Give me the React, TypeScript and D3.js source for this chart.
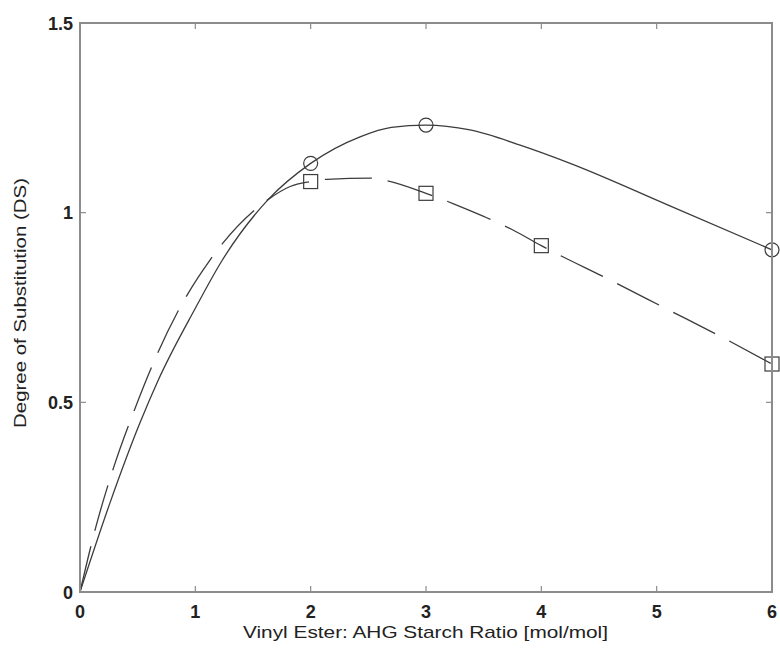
import React from "react";
import * as d3 from "d3";

const xTicks = [0, 1, 2, 3, 4, 5, 6];
const yTicks = [0, 0.5, 1, 1.5];
const yTickLabels = ["0", "0.5", "1", "1.5"];

// measured points (markers)
const circleX = [2, 3, 6];
const circleY = [1.13, 1.231, 0.902];
const squareX = [2, 3, 4, 6];
const squareY = [1.082, 1.051, 0.913, 0.601];

// fitted curves, values
const solidFitX = [0, 0.26, 0.52, 0.676, 1.0, 1.228, 1.633, 2.0, 2.428, 2.7, 3.0, 3.382, 3.816, 4.25, 5.1, 6.0];
const solidFitY = [0, 0.235, 0.446, 0.557, 0.748, 0.872, 1.035, 1.13, 1.2, 1.225, 1.231, 1.218, 1.178, 1.13, 1.02, 0.902];
const dashFitX = [0, 0.13, 0.289, 0.477, 0.622, 0.853, 1.127, 1.633, 1.822, 2.0, 2.14, 2.53, 2.66, 3.0, 3.25, 3.5, 3.75, 4.0, 4.612, 5.088, 5.565, 6.0];
const dashFitY = [0, 0.163, 0.326, 0.484, 0.594, 0.742, 0.875, 1.035, 1.069, 1.082, 1.088, 1.091, 1.084, 1.051, 1.022, 0.99, 0.955, 0.913, 0.82, 0.746, 0.672, 0.601];

const xTitle = "Vinyl Ester: AHG Starch Ratio [mol/mol]";
const yTitle = "Degree of Substitution (DS)";

export default function App() {
  const W = 780, H = 648;
  const L = 80, R = 772, T = 23, B = 592;
  const x = d3.scaleLinear().domain([0, 6]).range([L, R]);
  const y = d3.scaleLinear().domain([0, 1.5]).range([B, T]);
  const line = d3
    .line<[number, number]>()
    .x((d) => x(d[0]))
    .y((d) => y(d[1]))
    .curve(d3.curveMonotoneX);
  const solidPts: [number, number][] = solidFitX.map((v, i) => [v, solidFitY[i]]);
  const dashPts: [number, number][] = dashFitX.map((v, i) => [v, dashFitY[i]]);
  const axisColor = "#8c8c8c";
  const lineColor = "#3c3c3c";
  const font = "'Liberation Sans', Arial, sans-serif";
  const tl = 6;
  return (
    <svg
      width={W}
      height={H}
      style={{ position: "absolute", left: 0, top: 0, background: "#fff" }}
    >
      <rect x={0} y={0} width={W} height={H} fill="#fff" />
      {/* curves */}
      <path d={line(solidPts) || ""} fill="none" stroke={lineColor} strokeWidth={1.3} />
      <path
        d={line(dashPts) || ""}
        fill="none"
        stroke={lineColor}
        strokeWidth={1.3}
        strokeDasharray="47,16"
      />
      {/* markers */}
      {circleX.map((v, i) => (
        <circle
          key={"c" + i}
          cx={x(v)}
          cy={y(circleY[i])}
          r={7}
          fill="none"
          stroke={lineColor}
          strokeWidth={1.2}
        />
      ))}
      {squareX.map((v, i) => (
        <rect
          key={"s" + i}
          x={x(v) - 7}
          y={y(squareY[i]) - 7}
          width={14}
          height={14}
          fill="none"
          stroke={lineColor}
          strokeWidth={1.2}
        />
      ))}
      {/* frame */}
      <rect
        x={L}
        y={T}
        width={R - L}
        height={B - T}
        fill="none"
        stroke={axisColor}
        strokeWidth={2}
      />
      {/* ticks */}
      {xTicks.map((t) => (
        <g key={"xt" + t}>
          <line x1={x(t)} x2={x(t)} y1={B} y2={B - tl} stroke={axisColor} strokeWidth={1.2} />
          <line x1={x(t)} x2={x(t)} y1={T} y2={T + tl} stroke={axisColor} strokeWidth={1.2} />
          <text
            x={x(t)}
            y={618}
            textAnchor="middle"
            fontFamily={font}
            fontSize={18}
            fontWeight="bold"
            fill="#222"
          >
            {t}
          </text>
        </g>
      ))}
      {yTicks.map((t, i) => (
        <g key={"yt" + t}>
          <line x1={L} x2={L + tl} y1={y(t)} y2={y(t)} stroke={axisColor} strokeWidth={1.2} />
          <line x1={R} x2={R - tl} y1={y(t)} y2={y(t)} stroke={axisColor} strokeWidth={1.2} />
          <text
            x={73}
            y={y(t) + 6.5}
            textAnchor="end"
            fontFamily={font}
            fontSize={18}
            fontWeight="bold"
            fill="#222"
          >
            {yTickLabels[i]}
          </text>
        </g>
      ))}
      {/* titles */}
      <text
        x={425.5}
        y={638}
        textAnchor="middle"
        fontFamily={font}
        fontSize={17}
        fill="#222"
        textLength={365}
        lengthAdjust="spacingAndGlyphs"
      >
        {xTitle}
      </text>
      <text
        transform={`translate(26,303) rotate(-90)`}
        textAnchor="middle"
        fontFamily={font}
        fontSize={17}
        fill="#222"
        textLength={250}
        lengthAdjust="spacingAndGlyphs"
      >
        {yTitle}
      </text>
    </svg>
  );
}
